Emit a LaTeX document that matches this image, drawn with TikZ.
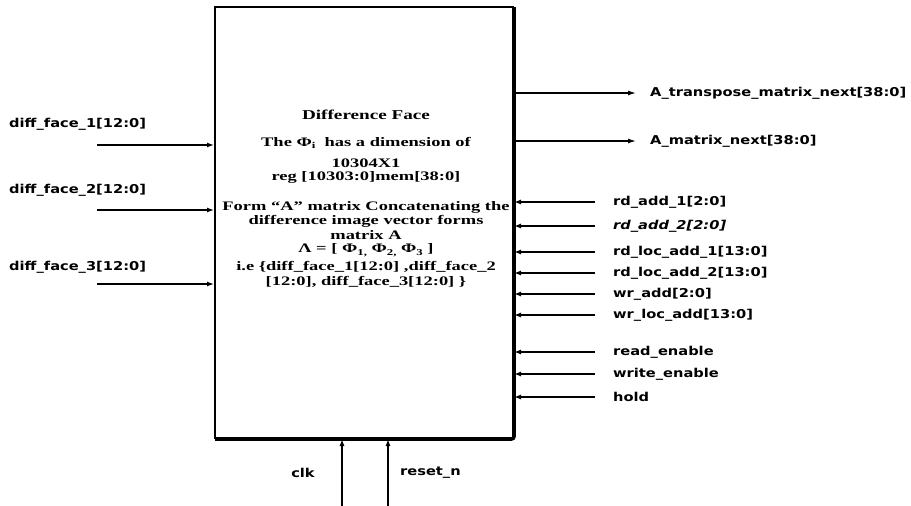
\documentclass[tikz,border=0pt]{standalone}
\usepackage{fontspec}
\usetikzlibrary{arrows.meta}
\newfontfamily\lblfont[FakeStretch=1.2]{DejaVu Sans}
\newfontfamily\boxfont[FakeStretch=1.42]{Liberation Serif}
\newcommand{\lowr}[1]{\raisebox{-0.45ex}{\fontsize{9}{9}\selectfont #1}}
\begin{document}
\begin{tikzpicture}[x=1pt,y=-1pt,
  lbl/.style={font=\lblfont\bfseries\fontsize{12.2}{13}\selectfont, anchor=west, inner sep=0pt},
  boxtxt/.style={font=\boxfont\bfseries\fontsize{13}{14}\selectfont, inner sep=0pt},
  wire/.style={line width=1.3pt},
  inarrow/.style={wire, -{Latex[length=7pt,width=5pt]}},
  outarrow/.style={wire, -{Latex[length=8pt,width=5pt]}}]
\useasboundingbox (0,0) rectangle (911,506);
% main block
\node[draw, line width=2pt, minimum width=298pt, minimum height=431pt, inner sep=0pt] (box) at (364,222.5) {};
\draw[line width=3.6pt, rounded corners=2.5pt] ([yshift=-1pt]box.north east) -- (box.south east) -- ([xshift=1pt]box.south west);
% text inside
\node[boxtxt, font=\boxfont\bfseries\fontsize{13.5}{14}\selectfont] (t0) at (366,115) {Difference Face};
\node[boxtxt] (t1) at (366,143) {The Φ\lowr{i}\ \ has a dimension of};
\node[boxtxt] (t2) at (366,163) {10304X1};
\node[boxtxt] (t3) at (366,177) {reg [10303:0]mem[38:0]};
\node[boxtxt] (t4) at (366,207) {Form “A” matrix Concatenating the};
\node[boxtxt] (t5) at (366,221) {difference image vector forms};
\node[boxtxt] (t6) at (366,235) {matrix A};
\node[boxtxt] (t7) at (366,250) {Λ = [ Φ\lowr{1,} Φ\lowr{2,} Φ\lowr{3} ]};
\node[boxtxt] (t8) at (366,267) {i.e \{diff\_face\_1[12:0] ,diff\_face\_2};
\node[boxtxt] (t9) at (366,282) {[12:0], diff\_face\_3[12:0] \}};
% left inputs
\coordinate (i1) at (97,145);
\coordinate (i2) at (97,210);
\coordinate (i3) at (97,284);
\draw[inarrow] (i1) -- (i1 -| box.west);
\draw[inarrow] (i2) -- (i2 -| box.west);
\draw[inarrow] (i3) -- (i3 -| box.west);
\node[lbl] (l1) at (9,124) {diff\_face\_1[12:0]};
\node[lbl] (l2) at (9,190) {diff\_face\_2[12:0]};
\node[lbl] (l3) at (9,267) {diff\_face\_3[12:0]};
% outputs
\coordinate (o1) at (636,93);
\coordinate (o2) at (636,141);
\draw[outarrow] (o1 -| box.east) -- (o1);
\draw[outarrow] (o2 -| box.east) -- (o2);
\node[lbl] (ol1) at (650,93) {A\_transpose\_matrix\_next[38:0]};
\node[lbl] (ol2) at (650,141) {A\_matrix\_next[38:0]};
% right inputs
\foreach \n/\y/\t in {r1/202/rd\_add\_1[2:0], r2/226/{\itshape rd\_add\_2[2:0]}, r3/252/rd\_loc\_add\_1[13:0], r4/273/rd\_loc\_add\_2[13:0], r5/294/wr\_add[2:0], r6/315/wr\_loc\_add[13:0], r7/352/read\_enable, r8/374/write\_enable, r9/397/hold}{
  \coordinate (\n) at (595,\y);
  \draw[inarrow] (\n) -- (\n -| box.east);
  \node[lbl] (\n lab) at (613,\y) {\t};
}
% bottom inputs
\coordinate (clk) at (342,506);
\coordinate (rst) at (388,506);
\draw[inarrow] (clk) -- (clk |- box.south);
\draw[inarrow] (rst) -- (rst |- box.south);
\node[lbl, anchor=center] (clklab) at (303,473) {clk};
\node[lbl] (rstlab) at (400,473) {reset\_n};
\end{tikzpicture}
\end{document}
